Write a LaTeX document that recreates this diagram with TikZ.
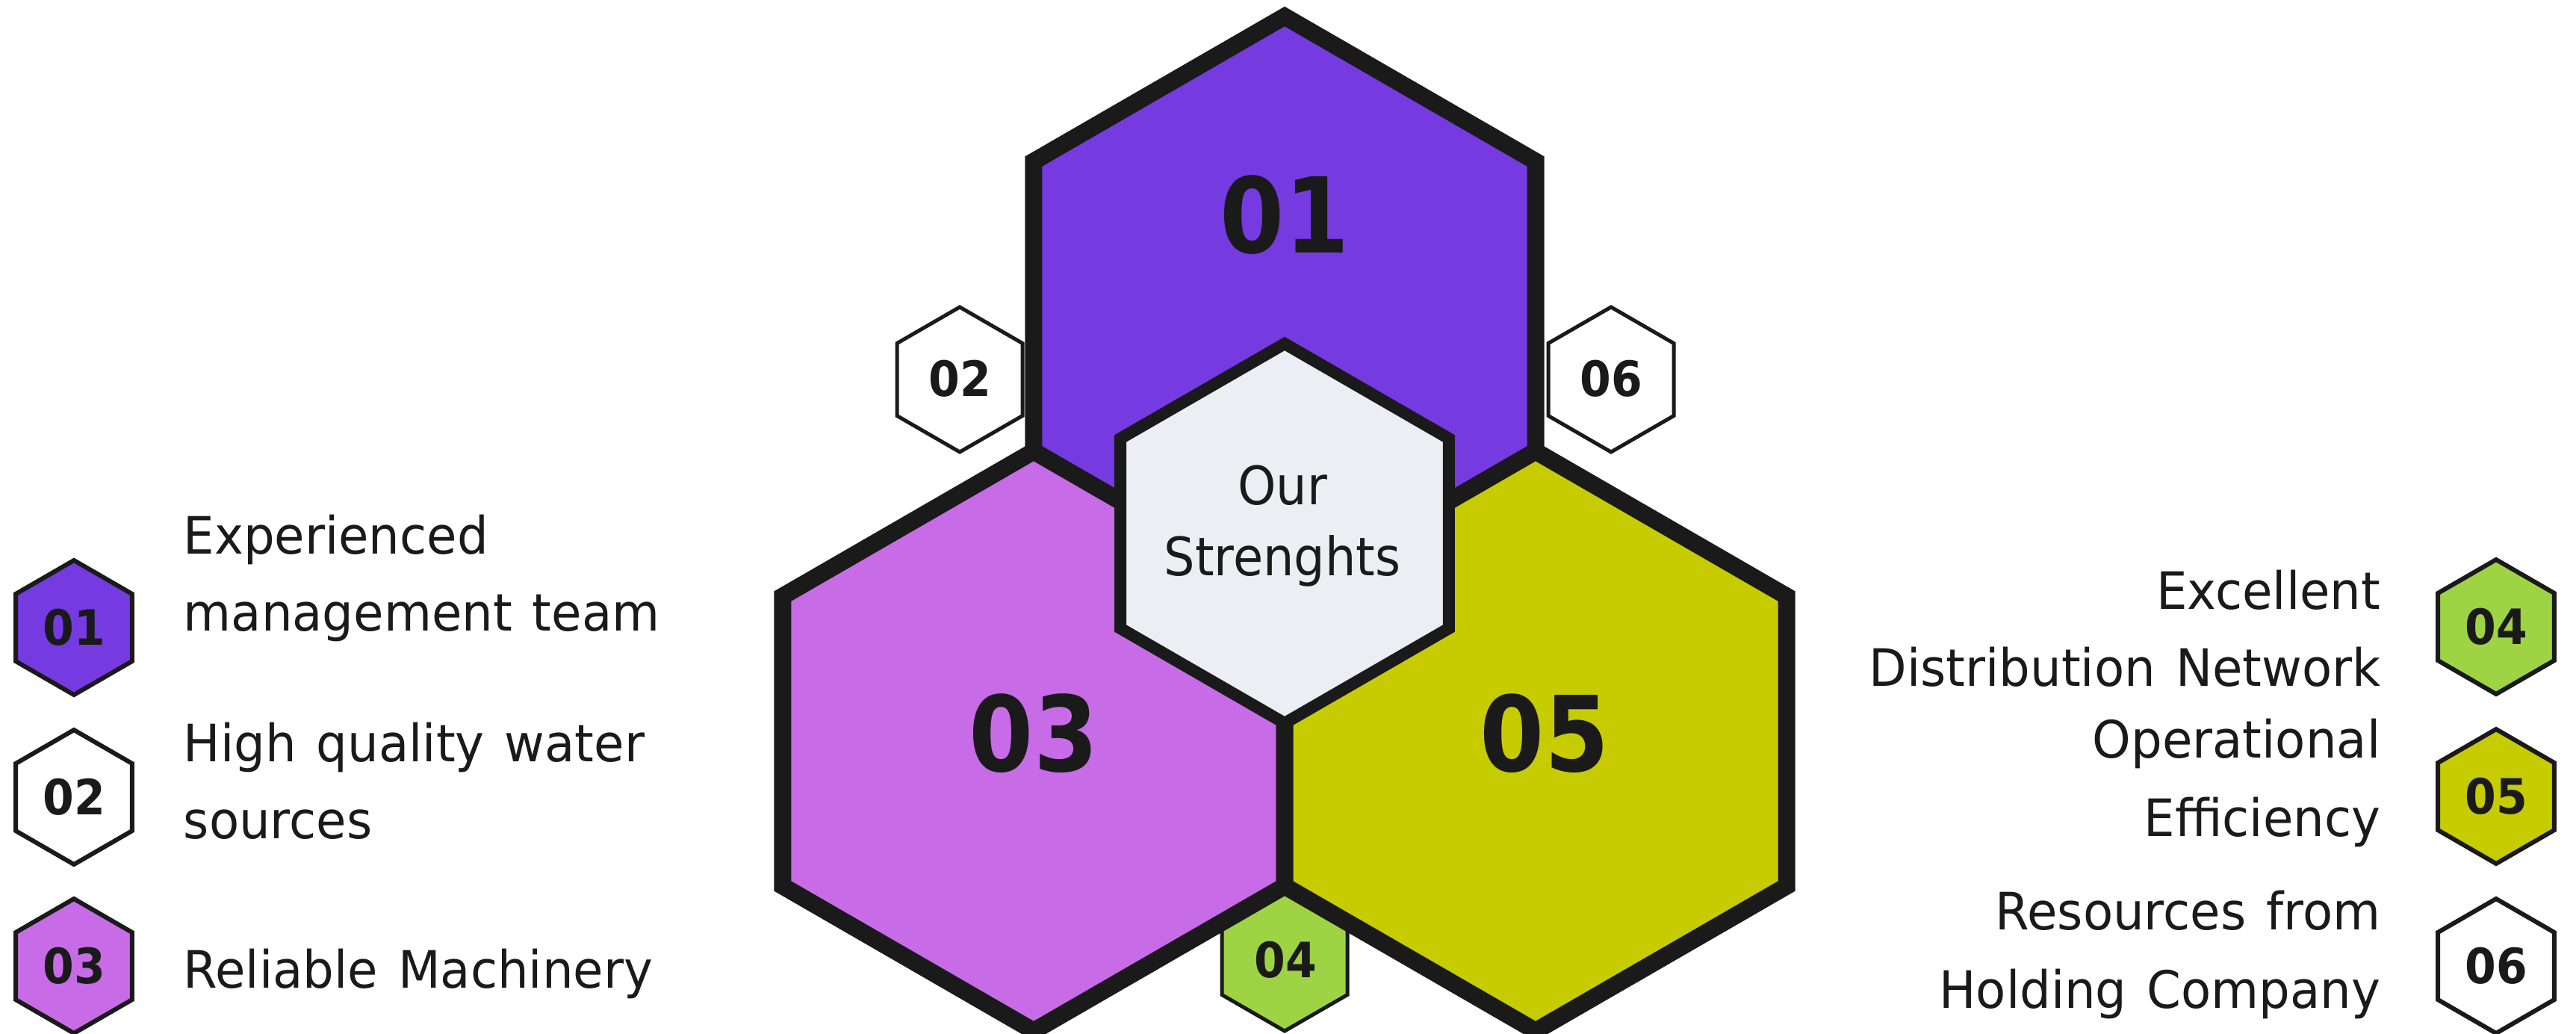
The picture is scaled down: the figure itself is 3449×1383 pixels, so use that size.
\documentclass[tikz,border=0pt]{standalone}
\usepackage{fontspec}
\newfontfamily\dv[FakeStretch=0.92,WordSpace=1.35]{DejaVu Sans}
\newfontfamily\dvw[FakeStretch=0.952,WordSpace=1.3]{DejaVu Sans}
\newfontfamily\dvb[FakeStretch=0.885]{DejaVu Sans}
\definecolor{ink}{HTML}{1A1A1A}
\definecolor{cpurple}{HTML}{753AE0}
\definecolor{cpink}{HTML}{C86BE6}
\definecolor{colive}{HTML}{C6CC00}
\definecolor{cgreen}{HTML}{9ED443}
\definecolor{ccenter}{HTML}{EDEEF4}
\tikzset{
  pics/hexa/.style={code={\path[pic actions] (-90:#1) -- (-30:#1) -- (30:#1) -- (90:#1) -- (150:#1) -- (210:#1) -- cycle;}},
  bighex/.style={draw=ink, line width=5.75pt, line join=miter},
  midhex/.style={draw=ink, line width=4pt, line join=miter, fill=ccenter},
  smallhex/.style={draw=ink, line width=1.25pt, line join=miter},
  leghex/.style={draw=ink, line width=1.5pt, line join=miter},
  bignum/.style={font=\dvb\bfseries\fontsize{35pt}{40pt}\selectfont, text=ink, inner sep=0},
  smallnum/.style={font=\dv\bfseries\fontsize{16.3pt}{19pt}\selectfont, text=ink, inner sep=0},
  lbl/.style={font=\dvw\fontsize{17.25pt}{20pt}\selectfont, text=ink, inner sep=0},
  ctr/.style={font=\dv\fontsize{17.75pt}{20pt}\selectfont, text=ink, inner sep=0}
}
\begin{document}
\begin{tikzpicture}[x=0.25pt,y=-0.25pt]
\useasboundingbox (0,0) rectangle (3449,1383);
% coordinates
\coordinate (h1) at (1720,410);
\coordinate (h3) at (1384,992);
\coordinate (h5) at (2056,992);
\coordinate (hc) at (1720,714);
\coordinate (s2) at (1285,508);
\coordinate (s6) at (2157,508);
\coordinate (s4) at (1720,1283);
\coordinate (L1) at (99,840);
\coordinate (L2) at (99,1067);
\coordinate (L3) at (99,1293);
\coordinate (R4) at (3342,839);
\coordinate (R5) at (3342,1066);
\coordinate (R6) at (3342,1293);
% small hexes around
\pic[smallhex, fill=cgreen] at (s4) {hexa=97};
\pic[smallhex, fill=white] at (s2) {hexa=97};
\pic[smallhex, fill=white] at (s6) {hexa=97};
% big hexes
\pic[bighex, fill=cpurple] at (h1) {hexa=388};
\pic[bighex, fill=cpink] at (h3) {hexa=388};
\pic[bighex, fill=colive] at (h5) {hexa=388};
% center hex
\pic[midhex] at (hc) {hexa=254};
% legend hexes
\pic[leghex, fill=cpurple] at (L1) {hexa=90};
\pic[leghex, fill=white] at (L2) {hexa=90};
\pic[leghex, fill=cpink] at (L3) {hexa=90};
\pic[leghex, fill=cgreen] at (R4) {hexa=90};
\pic[leghex, fill=colive] at (R5) {hexa=90};
\pic[leghex, fill=white] at (R6) {hexa=90};
% numbers
\node[bignum] (n1) at (1720,288) {01};
\node[bignum] (n3) at (1384,982) {03};
\node[bignum] (n5) at (2068,982) {05};
\node[smallnum] (m2) at (1285,507) {02};
\node[smallnum] (m6) at (2157,507) {06};
\node[smallnum] (m4) at (1721,1285) {04};
\node[smallnum] (k1) at (L1) {01};
\node[smallnum] (k2) at (L2) {02};
\node[smallnum] (k3) at (L3) {03};
\node[smallnum] (k4) at (R4) {04};
\node[smallnum] (k5) at (R5) {05};
\node[smallnum] (k6) at (R6) {06};
% center text
\node[ctr, anchor=base] (c1) at (1717,675) {Our};
\node[ctr, anchor=base] (c2) at (1717,770) {Strenghts};
% left texts
\node[lbl, anchor=base west] (t1a) at (245,741) {Experienced};
\node[lbl, anchor=base west] (t1b) at (245,844) {management team};
\node[lbl, anchor=base west] (t2a) at (245,1019) {High quality water};
\node[lbl, anchor=base west] (t2b) at (245,1122) {sources};
\node[lbl, anchor=base west] (t3a) at (245,1322) {Reliable Machinery};
% right texts
\node[lbl, anchor=base east] (t4a) at (3188,815) {Excellent};
\node[lbl, anchor=base east] (t4b) at (3188,918) {Distribution Network};
\node[lbl, anchor=base east] (t5a) at (3188,1014) {Operational};
\node[lbl, anchor=base east] (t5b) at (3188,1119) {Efficiency};
\node[lbl, anchor=base east] (t6a) at (3188,1244) {Resources from};
\node[lbl, anchor=base east] (t6b) at (3188,1349) {Holding Company};
\end{tikzpicture}
\end{document}
